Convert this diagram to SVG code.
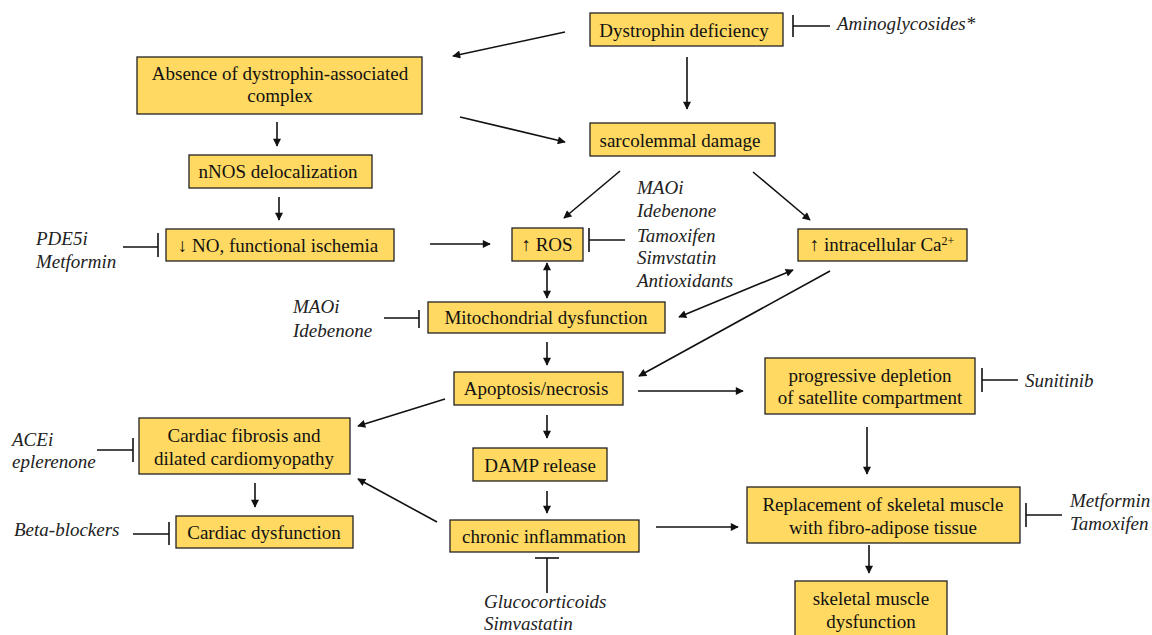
<svg xmlns="http://www.w3.org/2000/svg" width="1152" height="635" viewBox="0 0 1152 635">
<style>
.box{fill:#FFD961;stroke:#222;stroke-width:1.3}
.t{font-family:"Liberation Serif","Times New Roman",serif;font-size:19px;fill:#111;text-anchor:middle}
.d{font-family:"Liberation Serif","Times New Roman",serif;font-size:19px;font-style:italic;fill:#222}
.c line{stroke:#111;stroke-width:1.6}
.a{marker-end:url(#ah)}
.b{marker-end:url(#ah);marker-start:url(#ah)}
.inh line{stroke:#111;stroke-width:1.6}
</style>
<defs>
<marker id="ah" viewBox="0 0 10 10" refX="9" refY="5" markerWidth="9" markerHeight="8" markerUnits="userSpaceOnUse" orient="auto-start-reverse">
<path d="M0,0 L10,5 L0,10 z" fill="#111"/>
</marker>
</defs>
<rect width="1152" height="635" fill="#fff"/>

<g class="c" id="connectors">
<line class="a" x1="565" y1="32" x2="453" y2="56"/>
<line class="a" x1="687" y1="57" x2="687" y2="109"/>
<line class="a" x1="460" y1="117" x2="565" y2="142"/>
<line class="a" x1="277" y1="122" x2="277" y2="146"/>
<line class="a" x1="279" y1="197" x2="279" y2="220"/>
<line class="a" x1="430" y1="244" x2="490" y2="244"/>
<line class="a" x1="620" y1="171" x2="564" y2="218"/>
<line class="a" x1="753" y1="172" x2="810" y2="220"/>
<line class="b" x1="547" y1="263" x2="547" y2="298"/>
<line class="b" x1="793" y1="270" x2="679" y2="317"/>
<line class="a" x1="830" y1="271" x2="639" y2="376"/>
<line class="a" x1="547" y1="342" x2="547" y2="365"/>
<line class="a" x1="638" y1="391" x2="743" y2="391"/>
<line class="a" x1="445" y1="399" x2="358" y2="426"/>
<line class="a" x1="547" y1="415" x2="547" y2="438"/>
<line class="a" x1="547" y1="491" x2="547" y2="513"/>
<line class="a" x1="437" y1="522" x2="358" y2="479"/>
<line class="a" x1="255" y1="483" x2="255" y2="507"/>
<line class="a" x1="656" y1="527" x2="738" y2="527"/>
<line class="a" x1="867" y1="427" x2="867" y2="474"/>
<line class="a" x1="869" y1="545" x2="869" y2="573"/>
</g>

<g class="inh" id="inhibitors">
<line x1="793" y1="15" x2="793" y2="37"/><line x1="793" y1="26" x2="830" y2="26"/>
<line x1="158" y1="233" x2="158" y2="257"/><line x1="123" y1="247" x2="158" y2="247"/>
<line x1="589" y1="228" x2="589" y2="252"/><line x1="589" y1="240" x2="625" y2="240"/>
<line x1="419" y1="310" x2="419" y2="328"/><line x1="384" y1="318" x2="419" y2="318"/>
<line x1="982" y1="368" x2="982" y2="392"/><line x1="982" y1="380" x2="1018" y2="380"/>
<line x1="133" y1="438" x2="133" y2="462"/><line x1="97" y1="450" x2="133" y2="450"/>
<line x1="169" y1="522" x2="169" y2="545"/><line x1="133" y1="534" x2="169" y2="534"/>
<line x1="535" y1="558" x2="559" y2="558"/><line x1="547" y1="558" x2="547" y2="593"/>
<line x1="1026" y1="503" x2="1026" y2="527"/><line x1="1026" y1="515" x2="1062" y2="515"/>
</g>

<g id="drugs">
<text class="d" x="837" y="30">Aminoglycosides*</text>
<text class="d" x="36" y="245">PDE5i</text>
<text class="d" x="36" y="268">Metformin</text>
<text class="d" x="637" y="194">MAOi</text>
<text class="d" x="637" y="217">Idebenone</text>
<text class="d" x="637" y="242">Tamoxifen</text>
<text class="d" x="637" y="264">Simvstatin</text>
<text class="d" x="637" y="287">Antioxidants</text>
<text class="d" x="293" y="313">MAOi</text>
<text class="d" x="293" y="337">Idebenone</text>
<text class="d" x="1025" y="387">Sunitinib</text>
<text class="d" x="12" y="446">ACEi</text>
<text class="d" x="12" y="468">eplerenone</text>
<text class="d" x="14" y="536">Beta-blockers</text>
<text class="d" x="1070" y="507">Metformin</text>
<text class="d" x="1070" y="530">Tamoxifen</text>
<text class="d" x="484" y="608">Glucocorticoids</text>
<text class="d" x="484" y="630">Simvastatin</text>
</g>

<g id="n-dystrophin"><rect class="box" x="590" y="13" width="193" height="33"/><text class="t" x="684" y="37">Dystrophin  deficiency</text></g>
<g id="n-absence"><rect class="box" x="137" y="57" width="285" height="57"/><text class="t" x="280" y="80">Absence  of dystrophin-associated</text><text class="t" x="280" y="102">complex</text></g>
<g id="n-nnos"><rect class="box" x="189" y="155" width="183" height="33"/><text class="t" x="278" y="178">nNOS  delocalization</text></g>
<g id="n-no"><rect class="box" x="166" y="229" width="228" height="32"/><text class="t" x="278" y="252">↓ NO, functional  ischemia</text></g>
<g id="n-sarco"><rect class="box" x="590" y="123" width="185" height="33"/><text class="t" x="680" y="147">sarcolemmal  damage</text></g>
<g id="n-ros"><rect class="box" x="512" y="228" width="71" height="33"/><text class="t" x="547" y="251">↑ ROS</text></g>
<g id="n-ca"><rect class="box" x="798" y="229" width="169" height="32"/><text class="t" x="882" y="251">↑ intracellular  Ca<tspan font-size="12" dy="-6">2+</tspan></text></g>
<g id="n-mito"><rect class="box" x="428" y="302" width="237" height="31"/><text class="t" x="546" y="324">Mitochondrial  dysfunction</text></g>
<g id="n-apop"><rect class="box" x="454" y="372" width="169" height="33"/><text class="t" x="536" y="395">Apoptosis/necrosis</text></g>
<g id="n-prog"><rect class="box" x="765" y="358" width="210" height="56"/><text class="t" x="870" y="382">progressive  depletion</text><text class="t" x="870" y="404">of satellite  compartment</text></g>
<g id="n-cfib"><rect class="box" x="139" y="418" width="211" height="56"/><text class="t" x="244" y="442">Cardiac  fibrosis  and</text><text class="t" x="244" y="465">dilated  cardiomyopathy</text></g>
<g id="n-cdys"><rect class="box" x="176" y="516" width="177" height="32"/><text class="t" x="264" y="539">Cardiac  dysfunction</text></g>
<g id="n-damp"><rect class="box" x="473" y="448" width="134" height="33"/><text class="t" x="540" y="472">DAMP  release</text></g>
<g id="n-chronic"><rect class="box" x="450" y="520" width="189" height="32"/><text class="t" x="544" y="543">chronic  inflammation</text></g>
<g id="n-replace"><rect class="box" x="747" y="487" width="273" height="56"/><text class="t" x="883" y="511">Replacement  of skeletal  muscle</text><text class="t" x="883" y="534">with fibro-adipose  tissue</text></g>
<g id="n-skel"><rect class="box" x="795" y="581" width="152" height="60"/><text class="t" x="871" y="605">skeletal  muscle</text><text class="t" x="871" y="628">dysfunction</text></g>
</svg>
